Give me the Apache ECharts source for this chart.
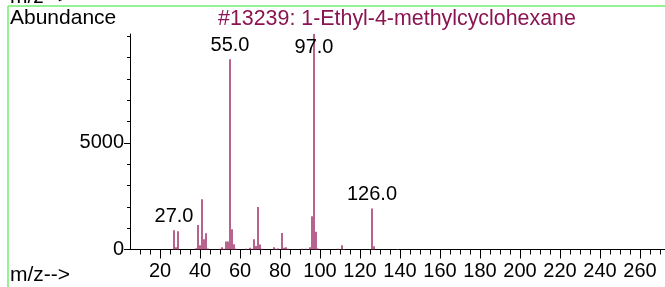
<!DOCTYPE html>
<html>
<head>
<meta charset="utf-8">
<script src="https://cdn.jsdelivr.net/npm/echarts@6/dist/echarts.min.js"></script>
<style>
  html, body { margin: 0; padding: 0; background: #fff; }
  #chart { width: 665px; height: 287px; }
</style>
</head>
<body>
<div id="chart"></div>
<script>
// m/z values and their abundances
const mz = [27, 28, 29, 38, 39, 40, 41, 42, 43, 44, 50, 51, 52, 53, 54, 55, 56, 57, 58, 63,
            65, 66, 67, 68, 69, 70, 71, 77, 78, 79, 81, 82, 83, 84, 91, 93, 95, 96, 97, 98,
            99, 109, 111, 112, 126, 127];
const abundance = [900, 100, 850, 60, 1150, 200, 2360, 480, 760, 50, 40, 100, 40, 380, 380, 8920, 950, 250, 30, 30,
                   80, 40, 480, 160, 1990, 230, 40, 110, 40, 50, 770, 80, 100, 30, 40, 30, 100, 1560, 10100, 830,
                   50, 30, 200, 20, 1920, 150];
const labelledPeaks = [27, 55, 97, 126];
const xLabels = [20, 40, 60, 80, 100, 120, 140, 160, 180, 200, 220, 240, 260];
const xMinorTicks = [10, 15, 25, 30, 35, 45, 50, 55, 65, 70, 75, 85, 90, 95, 105, 110, 115, 125, 130, 135,
                     145, 150, 155, 165, 170, 175, 185, 190, 195, 205, 210, 215, 225, 230, 235, 245, 250, 255, 265, 270];
const yLabels = [0, 5000];
const yMinorTicks = [1000, 2000, 3000, 4000, 6000, 7000, 8000, 9000, 10000];

const font = 'Liberation Sans, Arial, sans-serif';

const chart = echarts.init(document.getElementById('chart'));

const barData = mz.map(function (m, i) {
    const item = { value: [m, abundance[i]] };
    if (labelledPeaks.indexOf(m) >= 0) {
        item.label = {
            show: true,
            position: m === 97 ? 'insideTop' : 'top',
            distance: m === 97 ? 3 : 4,
            formatter: m.toFixed(1),
            fontSize: 20,
            fontFamily: font,
            color: '#000'
        };
    }
    return item;
});

const option = {
    animation: false,
    grid: { left: 130, right: 0, top: 34, height: 215.5 },
    xAxis: [
        {
            type: 'value', min: 5, max: 272.5,
            axisLine: { show: true, lineStyle: { color: '#000', width: 1 } },
            axisTick: { show: true, customValues: xLabels, length: 9, lineStyle: { color: '#000' } },
            axisLabel: { customValues: xLabels, fontSize: 20, fontFamily: font, color: '#000', margin: 12 },
            splitLine: { show: false }
        },
        {
            type: 'value', min: 5, max: 272.5, position: 'bottom',
            axisLine: { show: false },
            axisTick: { show: true, customValues: xMinorTicks, length: 5, lineStyle: { color: '#000' } },
            axisLabel: { show: false },
            splitLine: { show: false }
        }
    ],
    yAxis: [
        {
            type: 'value', min: 0, max: 10100,
            axisLine: { show: true, lineStyle: { color: '#000', width: 1 } },
            axisTick: { show: true, customValues: yLabels, length: 6, lineStyle: { color: '#000' } },
            axisLabel: {
                customValues: yLabels, fontSize: 20, fontFamily: font, color: '#000', margin: 6,
                formatter: function (v) { return String(v); }
            },
            splitLine: { show: false }
        },
        {
            type: 'value', min: 0, max: 10100, position: 'left',
            axisLine: { show: false },
            axisTick: { show: true, customValues: yMinorTicks, length: 3, lineStyle: { color: '#000' } },
            axisLabel: { show: false },
            splitLine: { show: false }
        }
    ],
    series: [{
        type: 'bar',
        xAxisIndex: 0,
        yAxisIndex: 0,
        barWidth: 1.5,
        itemStyle: { color: '#a02f69' },
        data: barData
    }],
    graphic: [
        { type: 'text', x: 10, y: -13, z: 1, style: { text: 'm/z-->', font: '21px ' + font, fill: '#000' } },
        { type: 'line', z: 2, shape: { x1: 8, y1: 6, x2: 665, y2: 6 }, style: { stroke: '#70ee70', lineWidth: 1.5 } },
        { type: 'line', z: 2, shape: { x1: 8, y1: 6, x2: 8, y2: 287 }, style: { stroke: '#70ee70', lineWidth: 1.5 } },
        { type: 'text', left: 10, top: 8, style: { text: 'Abundance', font: '21px ' + font, fill: '#000' } },
        { type: 'text', left: 218, top: 9, style: { text: '#13239: 1-Ethyl-4-methylcyclohexane', font: '21.4px ' + font, fill: '#8b1552' } },
        { type: 'text', left: 10, top: 265, style: { text: 'm/z-->', font: '21px ' + font, fill: '#000' } }
    ]
};

chart.setOption(option);
</script>
</body>
</html>
